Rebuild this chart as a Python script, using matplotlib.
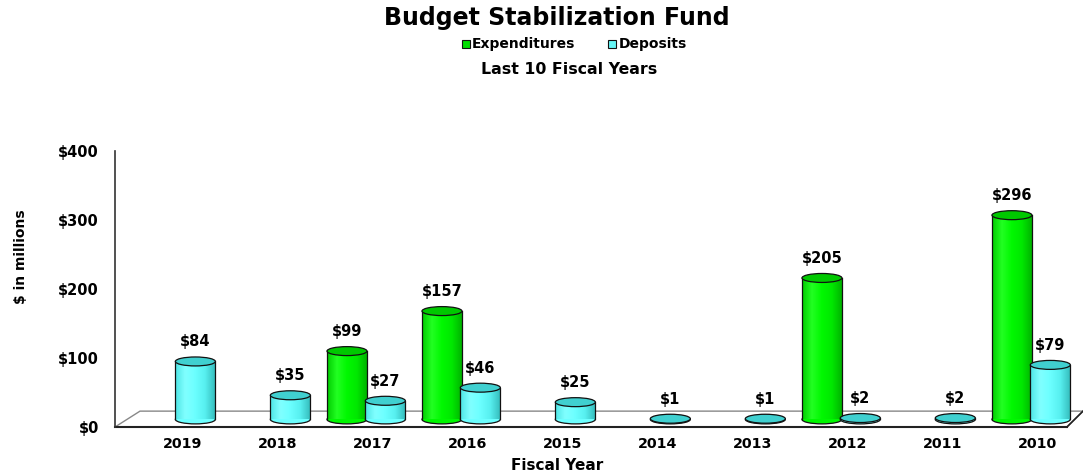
import numpy as np
import matplotlib
matplotlib.use("Agg")
import matplotlib.pyplot as plt
from matplotlib.patches import Ellipse, Polygon
from matplotlib.colors import LinearSegmentedColormap

plt.rcParams['font.family'] = ['DejaVu Sans']
plt.rcParams['font.weight'] = 'bold'

years = ["2019", "2018", "2017", "2016", "2015", "2014", "2013", "2012", "2011", "2010"]
expenditures = [0, 0, 99, 157, 0, 0, 0, 205, 0, 296]
deposits = [84, 35, 27, 46, 25, 1, 1, 2, 2, 79]
y_ticks = [0, 100, 200, 300, 400]
y_tick_labels = ["$0", "$100", "$200", "$300", "$400"]

W, H = 1083, 476
fig = plt.figure(figsize=(W / 100, H / 100), dpi=100)
fig.patch.set_facecolor("white")
ax = fig.add_axes([115 / W, (H - 427) / H, (W - 115) / W, 276 / H])
XL, XR = -0.716, 9.474
ax.set_xlim(XL, XR)
ax.set_ylim(0, 400)
for s in ["top", "right", "bottom"]:
    ax.spines[s].set_visible(False)
ax.spines["left"].set_color("#333333")
ax.spines["left"].set_linewidth(1.2)
ax.set_yticks(y_ticks)
ax.set_yticklabels(y_tick_labels, fontsize=10.5, fontweight="bold")
ax.tick_params(axis="y", length=0, pad=11.5)
ax.set_xticks(range(len(years)))
ax.set_xticklabels(years, fontsize=10.3, fontweight="bold")
ax.tick_params(axis="x", length=0, pad=7)

fig.text(557 / W, 1 - 466 / H, "Fiscal Year", ha="center", va="center", fontsize=11, fontweight="bold")
fig.text(21 / W, 1 - 257 / H, "$ in millions", ha="center", va="center", rotation=90,
         fontsize=10, fontweight="bold")

# floor
depth = 23
floor = Polygon([(XL, 0), (XL + 25 / 95, depth), (XR, depth), (9.305, 0)],
                closed=True, facecolor="white", edgecolor="#888888", lw=1.0, zorder=1, clip_on=False)
ax.add_patch(floor)
ax.plot([XL, 9.305], [0, 0], color="#222222", lw=1.5, zorder=1.5, clip_on=False)
ax.plot([9.305, XR], [0, depth], color="#222222", lw=1.2, zorder=1.5, clip_on=False)

base = 11
bw = 0.421
eh = 13

green_cmap = LinearSegmentedColormap.from_list("g", ["#00cc00", "#22ff22", "#00f800", "#00e800", "#00b400"])
cyan_cmap = LinearSegmentedColormap.from_list("c", ["#4ce4e4", "#80ffff", "#6cffff", "#58f0f0", "#36bebe"])
grad = np.linspace(0, 1, 256).reshape(1, -1)


def cylinders(xs, vals, cmap, top_color, z):
    bars = ax.bar(xs, vals, width=bw, bottom=base, color="none", edgecolor="none", zorder=z)
    for x, v, b in zip(xs, vals, bars):
        if v <= 0:
            continue
        ax.add_patch(Ellipse((x, base), bw, eh, facecolor=cmap(0.5), edgecolor="#111111", lw=0.9, zorder=z))
        im = ax.imshow(grad, cmap=cmap, aspect="auto", extent=(x - bw / 2, x + bw / 2, base, base + v),
                       zorder=z + 0.1, interpolation="bilinear")
        im.set_clip_path(b)
        ax.plot([x - bw / 2, x - bw / 2], [base, base + v], color="#111111", lw=0.9, zorder=z + 0.2)
        ax.plot([x + bw / 2, x + bw / 2], [base, base + v], color="#111111", lw=0.9, zorder=z + 0.2)
        ax.add_patch(Ellipse((x, base + v), bw, eh, facecolor=top_color, edgecolor="#111111", lw=0.9, zorder=z + 0.3))
        ax.annotate(f"${v}", (x, base + v), xytext=(0, 10.8), textcoords="offset points",
                    ha="center", va="baseline", fontsize=10.5, fontweight="bold", zorder=z + 0.4)


n = len(years)
xg = [i - 0.274 for i in range(n)]
xc = [i + 0.13 for i in range(n)]
cylinders(xg, expenditures, green_cmap, "#00c800", 3)
cylinders(xc, deposits, cyan_cmap, "#40d0d0", 4)
ax.set_xlim(XL, XR)
ax.set_ylim(0, 400)

fig.text(557 / W, 1 - 18 / H, "Budget Stabilization Fund", ha="center", va="center", fontsize=17, fontweight="bold")
# legend
ly = 1 - 44 / H
fig.patches.append(plt.Rectangle((462 / W, ly - 4 / H), 8 / W, 8 / H, transform=fig.transFigure,
                                 facecolor="#00dd00", edgecolor="#111111", lw=0.8))
fig.text(472 / W, ly, "Expenditures", ha="left", va="center", fontsize=10, fontweight="bold")
fig.patches.append(plt.Rectangle((608 / W, ly - 4 / H), 8 / W, 8 / H, transform=fig.transFigure,
                                 facecolor="#66f6f6", edgecolor="#111111", lw=0.8))
fig.text(619 / W, ly, "Deposits", ha="left", va="center", fontsize=10, fontweight="bold")
fig.text(569 / W, 1 - 70 / H, "Last 10 Fiscal Years", ha="center", va="center", fontsize=11.3, fontweight="bold")

fig.savefig("out.png", dpi=100, facecolor="white")
